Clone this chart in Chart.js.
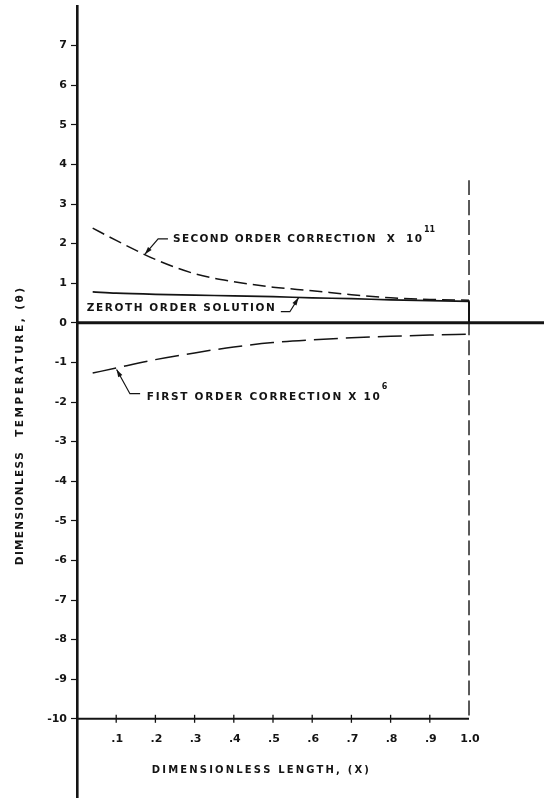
<!DOCTYPE html>
<html lang="en">
<head>
<meta charset="UTF-8">
<title>Dimensionless temperature vs dimensionless length</title>
<script src="https://cdn.jsdelivr.net/npm/chart.js"></script>
<style>
  html, body { margin: 0; padding: 0; background: #fff; }
  #wrap { width: 544px; height: 798px; }
</style>
</head>
<body>
<div id="wrap"><canvas id="chart" width="544" height="798"></canvas></div>
<script>
// values
const lengthX          = [0.04, 0.1, 0.2, 0.3, 0.4, 0.5, 0.6, 0.7, 0.8, 0.9, 1.0];
const zerothOrder      = [0.78, 0.75, 0.72, 0.70, 0.68, 0.66, 0.63, 0.61, 0.58, 0.56, 0.54];
const firstOrderX1e6   = [-1.27, -1.14, -0.93, -0.76, -0.61, -0.50, -0.43, -0.38, -0.34, -0.31, -0.29];
const secondOrderX1e11 = [2.39, 2.08, 1.60, 1.24, 1.04, 0.90, 0.81, 0.71, 0.63, 0.59, 0.57];

// end of zeroth order curve drops to the axis at X = 1
const zerothEndX = [1.0, 1.0];
const zerothEndY = [0.54, 0];

// reference lines
const zeroLineX = [0, 1.1913];
const zeroLineY = [0, 0];
const boundaryX = [1.0, 1.0];
const boundaryY = [3.6, -10];
const baseLineX = [0, 1.0];
const baseLineY = [-10, -10];

// ticks
const yTicks = [-10, -9, -8, -7, -6, -5, -4, -3, -2, -1, 0, 1, 2, 3, 4, 5, 6, 7];
const xTicks = [0.1, 0.2, 0.3, 0.4, 0.5, 0.6, 0.7, 0.8, 0.9, 1.0];
const xTickLabels = ['.1', '.2', '.3', '.4', '.5', '.6', '.7', '.8', '.9', '1.0'];

const INK = '#141414';
const FONT = '"DejaVu Sans", sans-serif';

function pts(xs, ys) {
    return xs.map((x, i) => ({ x: x, y: ys[i] }));
}

function line(data, width, dash) {
    return {
        data: data,
        borderColor: INK,
        borderWidth: width,
        borderDash: dash || [],
        pointRadius: 0,
        fill: false,
        cubicInterpolationMode: 'monotone'
    };
}

// draw text letter by letter so it spans a given width
function spacedText(ctx, str, x, y, width) {
    const chars = [...str];
    const raw = chars.reduce((s, c) => s + ctx.measureText(c).width, 0);
    const gap = chars.length > 1 ? (width - raw) / (chars.length - 1) : 0;
    let cx = x;
    chars.forEach(c => {
        ctx.fillText(c, cx, y);
        cx += ctx.measureText(c).width + gap;
    });
    return cx - gap;
}

function leader(ctx, xs, ys, path) {
    ctx.beginPath();
    path.forEach((p, i) => {
        const px = xs.getPixelForValue(p[0]);
        const py = ys.getPixelForValue(p[1]);
        if (i === 0) ctx.moveTo(px, py); else ctx.lineTo(px, py);
    });
    ctx.stroke();
    // arrow head at the last point
    const a = path[path.length - 2], b = path[path.length - 1];
    const ax = xs.getPixelForValue(a[0]), ay = ys.getPixelForValue(a[1]);
    const bx = xs.getPixelForValue(b[0]), by = ys.getPixelForValue(b[1]);
    const ang = Math.atan2(by - ay, bx - ax);
    ctx.beginPath();
    ctx.moveTo(bx, by);
    ctx.lineTo(bx - 8 * Math.cos(ang - 0.3), by - 8 * Math.sin(ang - 0.3));
    ctx.lineTo(bx - 8 * Math.cos(ang + 0.3), by - 8 * Math.sin(ang + 0.3));
    ctx.closePath();
    ctx.fill();
}

const notes = [
    { text: 'SECOND ORDER CORRECTION  X  10', sup: '11', at: [0.245, 2.10], width: 249,
      path: [[0.232, 2.12], [0.207, 2.12], [0.173, 1.73]] },
    { text: 'ZEROTH ORDER SOLUTION', at: [0.025, 0.366], width: 188,
      path: [[0.520, 0.28], [0.543, 0.28], [0.565, 0.63]] },
    { text: 'FIRST ORDER CORRECTION X 10', sup: '6', at: [0.178, -1.87], width: 233,
      path: [[0.161, -1.79], [0.135, -1.79], [0.101, -1.18]] }
];

const drawExtras = {
    id: 'drawExtras',
    afterDatasetsDraw(chart) {
        const ctx = chart.ctx;
        const xs = chart.scales.x, ys = chart.scales.y;
        ctx.save();
        ctx.fillStyle = INK;
        ctx.strokeStyle = INK;

        // x axis tick marks and labels along the line at -10
        const base = ys.getPixelForValue(-10);
        ctx.lineWidth = 1.3;
        xTicks.forEach((t, i) => {
            const px = xs.getPixelForValue(t);
            if (i < xTicks.length - 1) {
                ctx.beginPath();
                ctx.moveTo(px, base - 4);
                ctx.lineTo(px, base + 4);
                ctx.stroke();
            }
        });
        ctx.font = 'bold 11px ' + FONT;
        ctx.textAlign = 'center';
        ctx.textBaseline = 'middle';
        xTicks.forEach((t, i) => {
            ctx.fillText(xTickLabels[i], xs.getPixelForValue(t) + 1, base + 20);
        });

        // x axis title
        ctx.textAlign = 'left';
        ctx.font = 'bold 10px ' + FONT;
        spacedText(ctx, 'DIMENSIONLESS LENGTH, (X)', xs.getPixelForValue(0.191), ys.getPixelForValue(-11.31), 217);

        // y axis title, rotated
        ctx.save();
        ctx.translate(20, 0);
        ctx.rotate(-Math.PI / 2);
        ctx.font = 'bold 10.5px ' + FONT;
        spacedText(ctx, 'DIMENSIONLESS', -ys.getPixelForValue(-6.12), 0, 113);
        spacedText(ctx, 'TEMPERATURE, (\u03B8)', -ys.getPixelForValue(-2.88), 0, 149);
        ctx.restore();

        // curve labels with leader arrows
        ctx.lineWidth = 1.2;
        notes.forEach(n => {
            ctx.font = 'bold 10.5px ' + FONT;
            const end = spacedText(ctx, n.text, xs.getPixelForValue(n.at[0]), ys.getPixelForValue(n.at[1]), n.width);
            if (n.sup) {
                ctx.font = 'bold 8px ' + FONT;
                ctx.fillText(n.sup, end + 2, ys.getPixelForValue(n.at[1]) - 10);
            }
            leader(ctx, xs, ys, n.path);
        });
        ctx.restore();
    }
};

new Chart(document.getElementById('chart'), {
    type: 'line',
    data: {
        datasets: [
            line(pts(zeroLineX, zeroLineY), 3),
            line(pts(boundaryX, boundaryY), 1.4, [15, 5]),
            line(pts(baseLineX, baseLineY), 2),
            line(pts(lengthX, zerothOrder), 1.7),
            line(pts(zerothEndX, zerothEndY), 2),
            line(pts(lengthX, firstOrderX1e6), 1.5, [24, 8]),
            line(pts(lengthX, secondOrderX1e11), 1.5, [13, 6])
        ]
    },
    options: {
        responsive: false,
        animation: false,
        devicePixelRatio: 1,
        layout: { padding: { top: 6, right: 0, bottom: 0, left: 0 } },
        plugins: {
            legend: { display: false },
            tooltip: { enabled: false }
        },
        scales: {
            x: {
                type: 'linear',
                min: 0,
                max: 1.1913,
                display: false
            },
            y: {
                type: 'linear',
                min: -12,
                max: 8,
                afterBuildTicks: scale => {
                    scale.ticks = yTicks.map(v => ({ value: v }));
                },
                afterFit: scale => {
                    scale.width = 77;
                    scale.paddingTop = 0;
                    scale.paddingBottom = 0;
                },
                border: { display: true, color: INK, width: 2.6 },
                grid: {
                    drawOnChartArea: false,
                    drawTicks: true,
                    tickLength: 6,
                    tickColor: INK,
                    tickWidth: 1.2
                },
                ticks: {
                    color: INK,
                    padding: 4,
                    font: { family: FONT, size: 11, weight: 'bold' },
                    callback: v => String(v)
                }
            }
        }
    },
    plugins: [drawExtras]
});
</script>
</body>
</html>
